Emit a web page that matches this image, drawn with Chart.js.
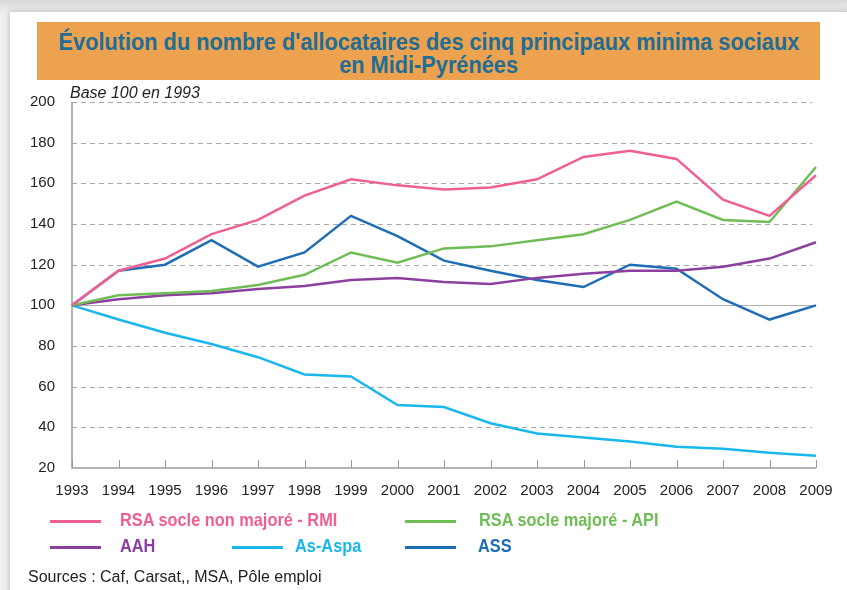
<!DOCTYPE html>
<html lang="fr">
<head>
<meta charset="utf-8">
<script src="https://cdn.jsdelivr.net/npm/chart.js@4.4.1/dist/chart.umd.min.js"></script>
<style>
  html, body { margin: 0; padding: 0; }
  body { width: 847px; height: 590px; overflow: hidden; background: linear-gradient(#d9d9d9, #efefef 14px, #efefef); position: relative; font-family: "Liberation Sans", Arial, sans-serif; }
  #card { position: absolute; left: 10px; top: 12px; width: 860px; height: 600px; background: #fff; box-shadow: 0 0 6px rgba(0,0,0,0.25); }
  #title { position: absolute; left: 37px; top: 22px; width: 783px; height: 58px; background: #eca24f; color: #216d96; font-weight: bold; font-size: 23px; line-height: 23px; text-align: center; padding-top: 9px; box-sizing: border-box; white-space: nowrap; }
  #title span { display: inline-block; transform: scaleX(0.945); }
  #base { position: absolute; left: 70px; top: 84px; font-style: italic; font-size: 16px; color: #222; }
  canvas { position: absolute; left: 0; top: 0; }
  .leg { position: absolute; font-size: 19px; font-weight: bold; white-space: nowrap; transform: scaleX(0.86); transform-origin: left center; }
  .sw { position: absolute; height: 3px; width: 51px; }
  #src { position: absolute; left: 28px; top: 568px; font-size: 16px; color: #222; }
</style>
</head>
<body>
<div id="card"></div>
<div id="title"><span>Évolution du nombre d'allocataires des cinq principaux minima sociaux</span><br><span>en Midi-Pyrénées</span></div>
<canvas id="c" width="847" height="590"></canvas>
<div id="base">Base 100 en 1993</div>
<div id="legend"></div>
<div id="src">Sources : Caf, Carsat,, MSA, Pôle emploi</div>
<script>
// données (base 100 en 1993)
const years = ['1993','1994','1995','1996','1997','1998','1999','2000','2001','2002','2003','2004','2005','2006','2007','2008','2009'];
const rmi  = [100, 117, 123, 135, 142, 154, 162, 159, 157, 158, 162, 173, 176, 172, 152, 144, 164];
const api  = [100, 105, 106, 107, 110, 115, 126, 121, 128, 129, 132, 135, 142, 151, 142, 141, 168];
const aah  = [100, 103, 105, 106, 108, 109.5, 112.5, 113.5, 111.5, 110.5, 113.5, 115.5, 117, 117, 119, 123, 131];
const aspa = [100, 93, 86.5, 81, 74.5, 66, 65, 51, 50, 42, 37, 35, 33, 30.5, 29.5, 27.5, 26];
const ass  = [100, 117, 120, 132, 119, 126, 144, 134, 122, 117, 112.5, 109, 120, 118, 103, 93, 100];
const yTicks = { min: 20, max: 200, step: 20 };

const series = [
  { label: 'RSA socle non majoré - RMI', data: rmi, color: '#ef5f94' },
  { label: 'RSA socle majoré - API', data: api, color: '#6fbd55' },
  { label: 'AAH', data: aah, color: '#8d3f9e' },
  { label: 'As-Aspa', data: aspa, color: '#19b7ec' },
  { label: 'ASS', data: ass, color: '#1f6db5' }
];

// légende en html, même disposition que l'original
const legendPos = [
  { sx: 50, tx: 120, y: 521 },
  { sx: 405, tx: 479, y: 521 },
  { sx: 50, tx: 120, y: 547 },
  { sx: 232, tx: 295, y: 547 },
  { sx: 405, tx: 478, y: 547 }
];
const legend = document.getElementById('legend');
series.forEach((s, i) => {
  const p = legendPos[i];
  const sw = document.createElement('div');
  sw.className = 'sw';
  sw.style.left = p.sx + 'px';
  sw.style.top = (p.y - 1) + 'px';
  sw.style.background = s.color;
  legend.appendChild(sw);
  const t = document.createElement('div');
  t.className = 'leg';
  t.style.left = p.tx + 'px';
  t.style.top = (p.y - 12) + 'px';
  t.style.color = s.color;
  t.innerText = s.label;
  legend.appendChild(t);
});

// grille pointillée, axes gris et petites graduations vers le haut
const gridPlugin = {
  id: 'grid',
  beforeDatasetsDraw(chart) {
    const { ctx, chartArea: a, scales: { x, y } } = chart;
    ctx.save();
    ctx.lineWidth = 1;
    y.ticks.forEach(t => {
      if (t.value === yTicks.min) return;
      const py = Math.round(y.getPixelForValue(t.value)) + 0.5;
      ctx.strokeStyle = t.value === 100 ? '#b0b0b0' : '#a8a8a8';
      ctx.setLineDash(t.value === 100 ? [] : [5, 4]);
      ctx.beginPath();
      ctx.moveTo(a.left, py);
      ctx.lineTo(a.right - 4, py);
      ctx.stroke();
    });
    ctx.setLineDash([]);
    ctx.strokeStyle = '#9a9a9a';
    ctx.lineWidth = 1.5;
    ctx.beginPath();
    ctx.moveTo(a.left, a.top);
    ctx.lineTo(a.left, a.bottom);
    ctx.lineTo(a.right, a.bottom);
    ctx.stroke();
    ctx.lineWidth = 1;
    years.forEach((yr, i) => {
      const px = Math.round(x.getPixelForValue(i)) + 0.5;
      ctx.beginPath();
      ctx.moveTo(px, a.bottom);
      ctx.lineTo(px, a.bottom - 8);
      ctx.stroke();
    });
    ctx.restore();
  }
};

new Chart(document.getElementById('c'), {
  type: 'line',
  data: {
    labels: years,
    datasets: series.map(s => ({
      label: s.label,
      data: s.data,
      borderColor: s.color,
      backgroundColor: s.color,
      borderWidth: 2.5,
      pointRadius: 0,
      tension: 0,
      fill: false
    }))
  },
  options: {
    responsive: false,
    animation: false,
    layout: { padding: { left: 0, top: 102, right: 31, bottom: 92 } },
    plugins: { legend: { display: false }, tooltip: { enabled: false } },
    scales: {
      x: {
        offset: false,
        grid: { display: false },
        border: { display: false },
        ticks: { color: '#222', font: { family: 'Liberation Sans', size: 15 }, maxRotation: 0, autoSkip: false, padding: 6 },
        afterFit: s => { s.height = 30; }
      },
      y: {
        min: yTicks.min,
        max: yTicks.max,
        grid: { display: false },
        border: { display: false },
        ticks: { stepSize: yTicks.step, color: '#222', font: { family: 'Liberation Sans', size: 15 }, padding: 9 },
        afterFit: s => { s.width = 72; }
      }
    }
  },
  plugins: [gridPlugin]
});
</script>
</body>
</html>
